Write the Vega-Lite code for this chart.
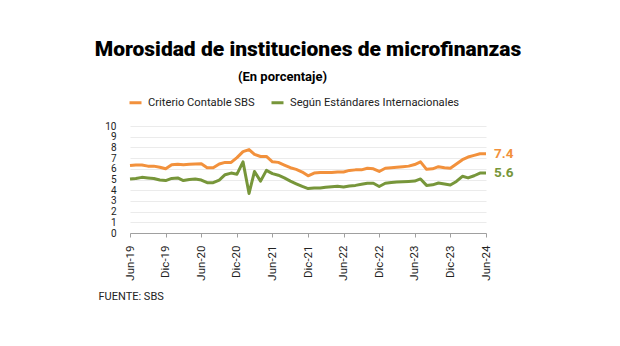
{
  "$schema": "https://vega.github.io/schema/vega-lite/v6.json",
  "width": 356,
  "height": 107,
  "autosize": {"type": "none"},
  "padding": {"left": 130, "top": 126, "right": 134, "bottom": 113},
  "background": "white",
  "title": {
    "text": "Morosidad de instituciones de microfinanzas",
    "anchor": "middle",
    "frame": "group",
    "font": "Roboto",
    "fontSize": 21,
    "fontWeight": 900,
    "color": "#000000",
    "offset": 10
  },
  "config": {
    "view": {"stroke": null},
    "font": "Roboto"
  },
  "data": {
    "values": [
      {"fecha": "2019-06-01", "Criterio Contable SBS": 6.3, "Según Estándares Internacionales": 5.05},
      {"fecha": "2019-07-01", "Criterio Contable SBS": 6.35, "Según Estándares Internacionales": 5.1},
      {"fecha": "2019-08-01", "Criterio Contable SBS": 6.35, "Según Estándares Internacionales": 5.2},
      {"fecha": "2019-09-01", "Criterio Contable SBS": 6.25, "Según Estándares Internacionales": 5.15},
      {"fecha": "2019-10-01", "Criterio Contable SBS": 6.25, "Según Estándares Internacionales": 5.1},
      {"fecha": "2019-11-01", "Criterio Contable SBS": 6.15, "Según Estándares Internacionales": 4.95},
      {"fecha": "2019-12-01", "Criterio Contable SBS": 6.0, "Según Estándares Internacionales": 4.9},
      {"fecha": "2020-01-01", "Criterio Contable SBS": 6.38, "Según Estándares Internacionales": 5.1},
      {"fecha": "2020-02-01", "Criterio Contable SBS": 6.42, "Según Estándares Internacionales": 5.15},
      {"fecha": "2020-03-01", "Criterio Contable SBS": 6.38, "Según Estándares Internacionales": 4.9},
      {"fecha": "2020-04-01", "Criterio Contable SBS": 6.42, "Según Estándares Internacionales": 5.0},
      {"fecha": "2020-05-01", "Criterio Contable SBS": 6.45, "Según Estándares Internacionales": 5.05},
      {"fecha": "2020-06-01", "Criterio Contable SBS": 6.47, "Según Estándares Internacionales": 4.95},
      {"fecha": "2020-07-01", "Criterio Contable SBS": 6.1, "Según Estándares Internacionales": 4.7},
      {"fecha": "2020-08-01", "Criterio Contable SBS": 6.1, "Según Estándares Internacionales": 4.7},
      {"fecha": "2020-09-01", "Criterio Contable SBS": 6.45, "Según Estándares Internacionales": 4.95},
      {"fecha": "2020-10-01", "Criterio Contable SBS": 6.6, "Según Estándares Internacionales": 5.45},
      {"fecha": "2020-11-01", "Criterio Contable SBS": 6.6, "Según Estándares Internacionales": 5.6},
      {"fecha": "2020-12-01", "Criterio Contable SBS": 7.05, "Según Estándares Internacionales": 5.5},
      {"fecha": "2021-01-01", "Criterio Contable SBS": 7.6, "Según Estándares Internacionales": 6.65},
      {"fecha": "2021-02-01", "Criterio Contable SBS": 7.8, "Según Estándares Internacionales": 3.7},
      {"fecha": "2021-03-01", "Criterio Contable SBS": 7.35, "Según Estándares Internacionales": 5.75},
      {"fecha": "2021-04-01", "Criterio Contable SBS": 7.15, "Según Estándares Internacionales": 4.85},
      {"fecha": "2021-05-01", "Criterio Contable SBS": 7.15, "Según Estándares Internacionales": 5.85},
      {"fecha": "2021-06-01", "Criterio Contable SBS": 6.65, "Según Estándares Internacionales": 5.55},
      {"fecha": "2021-07-01", "Criterio Contable SBS": 6.6, "Según Estándares Internacionales": 5.4},
      {"fecha": "2021-08-01", "Criterio Contable SBS": 6.35, "Según Estándares Internacionales": 5.15},
      {"fecha": "2021-09-01", "Criterio Contable SBS": 6.1, "Según Estándares Internacionales": 4.85},
      {"fecha": "2021-10-01", "Criterio Contable SBS": 5.95, "Según Estándares Internacionales": 4.6},
      {"fecha": "2021-11-01", "Criterio Contable SBS": 5.7, "Según Estándares Internacionales": 4.35},
      {"fecha": "2021-12-01", "Criterio Contable SBS": 5.35, "Según Estándares Internacionales": 4.15},
      {"fecha": "2022-01-01", "Criterio Contable SBS": 5.6, "Según Estándares Internacionales": 4.2},
      {"fecha": "2022-02-01", "Criterio Contable SBS": 5.65, "Según Estándares Internacionales": 4.2},
      {"fecha": "2022-03-01", "Criterio Contable SBS": 5.65, "Según Estándares Internacionales": 4.28},
      {"fecha": "2022-04-01", "Criterio Contable SBS": 5.65, "Según Estándares Internacionales": 4.33},
      {"fecha": "2022-05-01", "Criterio Contable SBS": 5.7, "Según Estándares Internacionales": 4.36},
      {"fecha": "2022-06-01", "Criterio Contable SBS": 5.7, "Según Estándares Internacionales": 4.3},
      {"fecha": "2022-07-01", "Criterio Contable SBS": 5.85, "Según Estándares Internacionales": 4.4},
      {"fecha": "2022-08-01", "Criterio Contable SBS": 5.9, "Según Estándares Internacionales": 4.45},
      {"fecha": "2022-09-01", "Criterio Contable SBS": 5.9, "Según Estándares Internacionales": 4.55},
      {"fecha": "2022-10-01", "Criterio Contable SBS": 6.05, "Según Estándares Internacionales": 4.65},
      {"fecha": "2022-11-01", "Criterio Contable SBS": 6.0, "Según Estándares Internacionales": 4.65},
      {"fecha": "2022-12-01", "Criterio Contable SBS": 5.75, "Según Estándares Internacionales": 4.35},
      {"fecha": "2023-01-01", "Criterio Contable SBS": 6.05, "Según Estándares Internacionales": 4.65},
      {"fecha": "2023-02-01", "Criterio Contable SBS": 6.1, "Según Estándares Internacionales": 4.72},
      {"fecha": "2023-03-01", "Criterio Contable SBS": 6.15, "Según Estándares Internacionales": 4.76},
      {"fecha": "2023-04-01", "Criterio Contable SBS": 6.2, "Según Estándares Internacionales": 4.8},
      {"fecha": "2023-05-01", "Criterio Contable SBS": 6.25, "Según Estándares Internacionales": 4.82},
      {"fecha": "2023-06-01", "Criterio Contable SBS": 6.4, "Según Estándares Internacionales": 4.85},
      {"fecha": "2023-07-01", "Criterio Contable SBS": 6.65, "Según Estándares Internacionales": 5.05},
      {"fecha": "2023-08-01", "Criterio Contable SBS": 5.95, "Según Estándares Internacionales": 4.45},
      {"fecha": "2023-09-01", "Criterio Contable SBS": 6.0, "Según Estándares Internacionales": 4.5},
      {"fecha": "2023-10-01", "Criterio Contable SBS": 6.2, "Según Estándares Internacionales": 4.67},
      {"fecha": "2023-11-01", "Criterio Contable SBS": 6.1, "Según Estándares Internacionales": 4.57},
      {"fecha": "2023-12-01", "Criterio Contable SBS": 6.05, "Según Estándares Internacionales": 4.48},
      {"fecha": "2024-01-01", "Criterio Contable SBS": 6.45, "Según Estándares Internacionales": 4.82},
      {"fecha": "2024-02-01", "Criterio Contable SBS": 6.85, "Según Estándares Internacionales": 5.3},
      {"fecha": "2024-03-01", "Criterio Contable SBS": 7.1, "Según Estándares Internacionales": 5.15},
      {"fecha": "2024-04-01", "Criterio Contable SBS": 7.25, "Según Estándares Internacionales": 5.35},
      {"fecha": "2024-05-01", "Criterio Contable SBS": 7.4, "Según Estándares Internacionales": 5.6},
      {"fecha": "2024-06-01", "Criterio Contable SBS": 7.4, "Según Estándares Internacionales": 5.6}
    ]
  },
  "transform": [
    {"fold": ["Criterio Contable SBS", "Según Estándares Internacionales"], "as": ["serie", "valor"]}
  ],
  "encoding": {
    "x": {
      "field": "fecha",
      "type": "temporal",
      "scale": {"type": "utc", "nice": false},
      "axis": {
        "values": [
          {"year": 2019, "month": 6, "date": 1, "utc": true},
          {"year": 2019, "month": 12, "date": 1, "utc": true},
          {"year": 2020, "month": 6, "date": 1, "utc": true},
          {"year": 2020, "month": 12, "date": 1, "utc": true},
          {"year": 2021, "month": 6, "date": 1, "utc": true},
          {"year": 2021, "month": 12, "date": 1, "utc": true},
          {"year": 2022, "month": 6, "date": 1, "utc": true},
          {"year": 2022, "month": 12, "date": 1, "utc": true},
          {"year": 2023, "month": 6, "date": 1, "utc": true},
          {"year": 2023, "month": 12, "date": 1, "utc": true},
          {"year": 2024, "month": 6, "date": 1, "utc": true}
        ],
        "labelExpr": "['Ene','Feb','Mar','Abr','May','Jun','Jul','Ago','Set','Oct','Nov','Dic'][utcmonth(datum.value)] + '-' + utcFormat(datum.value, '%y')",
        "labelAngle": -90,
        "labelAlign": "right",
        "labelBaseline": "middle",
        "labelFontSize": 11.5,
        "labelColor": "#222222",
        "labelPadding": 8,
        "labelFlush": false,
        "labelOverlap": false,
        "grid": false,
        "domainColor": "#a0a0a0",
        "tickColor": "#a0a0a0",
        "tickSize": 4,
        "title": "FUENTE: SBS",
        "titleX": -32,
        "titleY": 63,
        "titleAlign": "left",
        "titleBaseline": "middle",
        "titleAngle": 0,
        "titleFontSize": 11,
        "titleFontWeight": "normal",
        "titleColor": "#222222"
      }
    },
    "y": {
      "field": "valor",
      "type": "quantitative",
      "scale": {"domain": [0, 10], "nice": false},
      "axis": {
        "values": [0, 1, 2, 3, 4, 5, 6, 7, 8, 9, 10],
        "labelOverlap": false,
        "title": "(En porcentaje)",
        "titleAngle": 0,
        "titleX": 152,
        "titleY": -50,
        "titleAlign": "center",
        "titleBaseline": "middle",
        "titleFontSize": 13,
        "titleFontWeight": "bold",
        "titleColor": "#000000",
        "domain": false,
        "ticks": false,
        "grid": true,
        "gridColor": "#ebebeb",
        "labelPadding": 14,
        "labelFontSize": 10,
        "labelColor": "#222222"
      }
    },
    "color": {
      "field": "serie",
      "type": "nominal",
      "scale": {
        "domain": ["Criterio Contable SBS", "Según Estándares Internacionales"],
        "range": ["#F2913C", "#77963A"]
      },
      "legend": {
        "orient": "none",
        "legendX": -2,
        "legendY": -31,
        "direction": "horizontal",
        "title": null,
        "labelFontSize": 11.2,
        "labelColor": "#222222",
        "labelLimit": 300,
        "labelOffset": 5,
        "symbolType": "stroke",
        "symbolStrokeWidth": 3,
        "symbolSize": 144,
        "columnPadding": 10
      }
    }
  },
  "layer": [
    {
      "mark": {"type": "line", "strokeWidth": 3, "strokeJoin": "round"}
    },
    {
      "transform": [{"filter": "utcyear(datum.fecha) == 2024 && utcmonth(datum.fecha) == 5"}],
      "mark": {"type": "text", "align": "left", "baseline": "middle", "dx": 8, "fontSize": 13.5, "fontWeight": "bold"},
      "encoding": {
        "text": {"field": "valor", "type": "quantitative", "format": ".1f"}
      }
    }
  ]
}
